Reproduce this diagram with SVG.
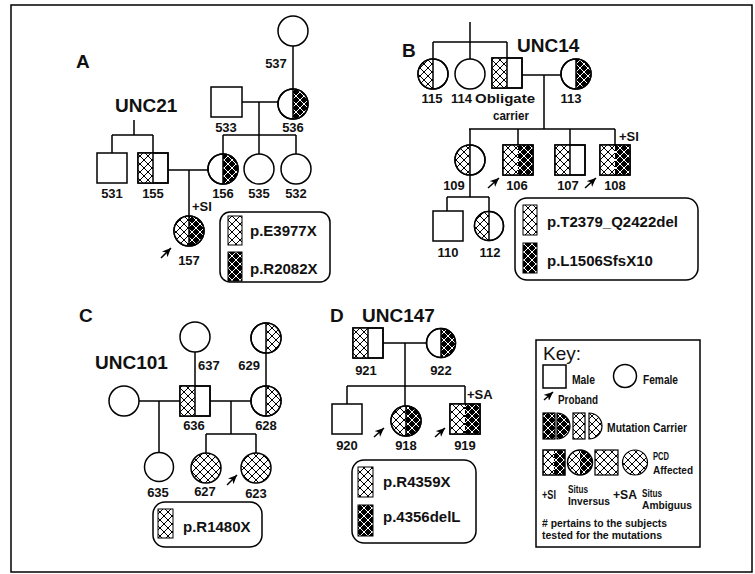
<svg xmlns="http://www.w3.org/2000/svg" width="755" height="574" viewBox="0 0 755 574">
<defs>
<pattern id="lt" patternUnits="userSpaceOnUse" width="8" height="8"><rect width="8" height="8" fill="#fff"/><path d="M-1,-1 L9,9 M9,-1 L-1,9" stroke="#000" stroke-width="1"/></pattern>
<pattern id="dk" patternUnits="userSpaceOnUse" width="8" height="8"><rect width="8" height="8" fill="#000"/><path d="M-1,-1 L9,9 M9,-1 L-1,9" stroke="#fff" stroke-width="1"/></pattern>
<marker id="ah" markerUnits="userSpaceOnUse" markerWidth="9" markerHeight="8" refX="9" refY="4" orient="auto"><path d="M0,0 L9,4 L0,8 L2.5,4 Z" fill="#000"/></marker>
<style>
.ln{stroke:#000;stroke-width:1.5;fill:none}
.sh{stroke:#000;stroke-width:1.5;fill:#fff}
.o{stroke:#000;stroke-width:1.5;fill:none}
.lt{fill:url(#lt)}
.dk{fill:url(#dk)}
.ar{stroke:#000;stroke-width:1.5;fill:none;marker-end:url(#ah)}
text{font-family:"Liberation Sans",Arial,sans-serif;font-weight:bold;fill:#111}
.n{font-size:13px;text-anchor:middle}
.ns{font-size:13px}
.ttl{font-size:19px}
.m{font-size:15px}
.k{font-size:12px}
.bx{stroke:#000;stroke-width:1.5;fill:#fff}
</style>
</defs>
<rect x="11" y="5" width="741" height="567" fill="#fff" stroke="#000" stroke-width="1.5"/>

<g id="connectors">
<!-- A -->
<path class="ln" d="M293,46 V89 M242,102 H278 M259,102 V135 M223,135 H296 M223,135 V154 M259,135 V154 M296,135 V154"/>
<path class="ln" d="M134,120 V135 M112,135 H153 M112,135 V153 M153,135 V153 M168,170 H208 M189,170 V216"/>
<!-- B -->
<path class="ln" d="M470,22 V42 M433,42 H507 M433,42 V59 M470,42 V59 M507,42 V58 M522,75 H561 M544,75 V129 M469,129 H615 M470,129 V145 M518,129 V145 M570,129 V145 M615,129 V145"/>
<path class="ln" d="M470,175 V197 M447,197 H489 M447,197 V211 M489,197 V212"/>
<!-- C -->
<path class="ln" d="M195,352 V386 M266,353 V386 M139,401 H180 M159,401 V452 M210,401 H251 M231,401 V434 M206,434 H256 M206,434 V453 M256,434 V453"/>
<!-- D -->
<path class="ln" d="M383,343 H427 M405,343 V406 M347,386 H465 M347,386 V404 M465,386 V404"/>
</g>

<g id="labels">
<text class="ttl" x="76" y="68">A</text>
<text class="ttl" x="115" y="112">UNC21</text>
<text class="ttl" x="402" y="57">B</text>
<text class="ttl" x="517" y="52">UNC14</text>
<text class="ttl" x="79" y="322">C</text>
<text class="ttl" x="95" y="369">UNC101</text>
<text class="ttl" x="330" y="322">D</text>
<text class="ttl" x="362" y="322">UNC147</text>
</g>

<!-- Panel A -->
<g id="A537"><circle class="sh" cx="293" cy="31" r="15"/><text class="n" x="276" y="68">537</text></g>
<g id="A536"><circle class="sh" cx="293" cy="104" r="15"/><path class="dk" d="M293,89 A15,15 0 0 1 293,119 Z"/><path class="o" d="M293,89 V119"/><circle class="o" cx="293" cy="104" r="15"/><text class="n" x="293" y="132">536</text></g>
<g id="A533"><rect class="sh" x="211" y="87" width="31" height="30"/><text class="n" x="226" y="132">533</text></g>
<g id="A531"><rect class="sh" x="97" y="153" width="30" height="30"/><text class="n" x="112" y="198">531</text></g>
<g id="A155"><rect class="sh" x="138" y="153" width="30" height="30"/><rect class="lt" x="138" y="153" width="15" height="30"/><path class="o" d="M153,153 V183"/><rect class="o" x="138" y="153" width="30" height="30"/><text class="n" x="153" y="198">155</text></g>
<g id="A156"><circle class="sh" cx="223" cy="169" r="15"/><path class="dk" d="M223,154 A15,15 0 0 1 223,184 Z"/><path class="o" d="M223,154 V184"/><circle class="o" cx="223" cy="169" r="15"/><text class="n" x="223" y="198">156</text></g>
<g id="A535"><circle class="sh" cx="259" cy="169" r="15"/><text class="n" x="259" y="198">535</text></g>
<g id="A532"><circle class="sh" cx="296" cy="169" r="15"/><text class="n" x="296" y="198">532</text></g>
<g id="A157"><circle class="sh" cx="189" cy="231" r="15"/><path class="lt" d="M189,216 A15,15 0 0 0 189,246 Z"/><path class="dk" d="M189,216 A15,15 0 0 1 189,246 Z"/><path class="o" d="M189,216 V246"/><circle class="o" cx="189" cy="231" r="15"/><text class="ns" x="192" y="211">+SI</text><path class="ar" d="M161,258 L171,248"/><text class="n" x="189" y="265">157</text></g>
<g id="A-legend"><rect class="bx" x="220" y="212" width="110" height="70" rx="10"/><rect class="lt" x="228" y="216" width="14" height="29" stroke="#000" stroke-width="1"/><text class="m" x="250" y="236">p.E3977X</text><rect class="dk" x="228" y="252" width="14" height="29" stroke="#000" stroke-width="1"/><text class="m" x="250" y="274">p.R2082X</text></g>

<!-- Panel B -->
<g id="B115"><circle class="sh" cx="433" cy="74" r="15"/><path class="lt" d="M433,59 A15,15 0 0 0 433,89 Z"/><path class="o" d="M433,59 V89"/><circle class="o" cx="433" cy="74" r="15"/><text class="n" x="432" y="103">115</text></g>
<g id="B114"><circle class="sh" cx="470" cy="74" r="15"/><text class="ns" x="451" y="103">114</text></g>
<g id="Bcarrier"><rect class="sh" x="492" y="58" width="30" height="30"/><rect class="lt" x="492" y="58" width="15" height="30"/><path class="o" d="M507,58 V88"/><rect class="o" x="492" y="58" width="30" height="30"/><text class="ns" x="475" y="103" textLength="60" lengthAdjust="spacingAndGlyphs">Obligate</text><text class="ns" x="493" y="120" textLength="36" lengthAdjust="spacingAndGlyphs">carrier</text></g>
<g id="B113"><circle class="sh" cx="576" cy="74" r="15"/><path class="dk" d="M576,59 A15,15 0 0 1 576,89 Z"/><path class="o" d="M576,59 V89"/><circle class="o" cx="576" cy="74" r="15"/><text class="n" x="571" y="103">113</text></g>
<g id="B109"><circle class="sh" cx="470" cy="160" r="15"/><path class="lt" d="M470,145 A15,15 0 0 0 470,175 Z"/><path class="o" d="M470,145 V175"/><circle class="o" cx="470" cy="160" r="15"/><text class="n" x="454" y="190">109</text></g>
<g id="B106"><rect class="sh" x="503" y="145" width="30" height="30"/><rect class="lt" x="503" y="145" width="15" height="30"/><rect class="dk" x="518" y="145" width="15" height="30"/><rect class="o" x="503" y="145" width="30" height="30"/><path class="ar" d="M488,188 L499,178"/><text class="n" x="517" y="190">106</text></g>
<g id="B107"><rect class="sh" x="555" y="145" width="30" height="30"/><rect class="lt" x="555" y="145" width="15" height="30"/><path class="o" d="M570,145 V175"/><rect class="o" x="555" y="145" width="30" height="30"/><text class="n" x="568" y="190">107</text></g>
<g id="B108"><rect class="sh" x="600" y="145" width="30" height="30"/><rect class="lt" x="600" y="145" width="15" height="30"/><rect class="dk" x="615" y="145" width="15" height="30"/><rect class="o" x="600" y="145" width="30" height="30"/><text class="ns" x="619" y="141">+SI</text><path class="ar" d="M585,188 L596,178"/><text class="n" x="615" y="190">108</text></g>
<g id="B110"><rect class="sh" x="433" y="211" width="30" height="30"/><text class="n" x="448" y="257">110</text></g>
<g id="B112"><circle class="sh" cx="489" cy="226" r="14.5"/><path class="lt" d="M489,211.5 A14.5,14.5 0 0 0 489,240.5 Z"/><path class="o" d="M489,211.5 V240.5"/><circle class="o" cx="489" cy="226" r="14.5"/><text class="n" x="490" y="257">112</text></g>
<g id="B-legend"><rect class="bx" x="515" y="198" width="183" height="82" rx="12"/><rect class="lt" x="523" y="205" width="14" height="30" stroke="#000" stroke-width="1"/><text class="m" x="547" y="227">p.T2379_Q2422del</text><rect class="dk" x="523" y="243" width="14" height="30" stroke="#000" stroke-width="1"/><text class="m" x="547" y="266">p.L1506SfsX10</text></g>

<!-- Panel C -->
<g id="C637"><circle class="sh" cx="195" cy="337" r="15"/><text class="ns" x="198" y="370">637</text></g>
<g id="C629"><circle class="sh" cx="266" cy="338" r="15"/><path class="lt" d="M266,323 A15,15 0 0 1 266,353 Z"/><path class="o" d="M266,323 V353"/><circle class="o" cx="266" cy="338" r="15"/><text class="ns" x="260" y="370" text-anchor="end">629</text></g>
<g id="C-spouse"><circle class="sh" cx="124" cy="401" r="15"/></g>
<g id="C636"><rect class="sh" x="180" y="386" width="30" height="30"/><rect class="lt" x="180" y="386" width="15" height="30"/><path class="o" d="M195,386 V416"/><rect class="o" x="180" y="386" width="30" height="30"/><text class="n" x="194" y="430">636</text></g>
<g id="C628"><circle class="sh" cx="266" cy="401" r="15"/><path class="lt" d="M266,386 A15,15 0 0 1 266,416 Z"/><path class="o" d="M266,386 V416"/><circle class="o" cx="266" cy="401" r="15"/><text class="n" x="266" y="430">628</text></g>
<g id="C635"><circle class="sh" cx="159" cy="467" r="14.5"/><text class="n" x="158" y="497">635</text></g>
<g id="C627"><circle class="lt" cx="206" cy="468" r="15" stroke="#000" stroke-width="1.5"/><text class="n" x="205" y="496">627</text></g>
<g id="C623"><circle class="lt" cx="256" cy="468" r="15" stroke="#000" stroke-width="1.5"/><path class="ar" d="M227,485 L237,475"/><text class="n" x="256" y="498">623</text></g>
<g id="C-legend"><rect class="bx" x="153" y="502" width="109" height="45" rx="12"/><rect class="lt" x="158" y="509" width="15" height="29" stroke="#000" stroke-width="1"/><text class="m" x="183" y="532">p.R1480X</text></g>

<!-- Panel D -->
<g id="D921"><rect class="sh" x="353" y="328" width="30" height="30"/><rect class="lt" x="353" y="328" width="15" height="30"/><path class="o" d="M368,328 V358"/><rect class="o" x="353" y="328" width="30" height="30"/><text class="n" x="366" y="375">921</text></g>
<g id="D922"><circle class="sh" cx="441" cy="343" r="14.5"/><path class="dk" d="M441,328.5 A14.5,14.5 0 0 1 441,357.5 Z"/><path class="o" d="M441,328.5 V357.5"/><circle class="o" cx="441" cy="343" r="14.5"/><text class="n" x="441" y="375">922</text></g>
<g id="D920"><rect class="sh" x="332" y="404" width="30" height="30"/><text class="n" x="347" y="450">920</text></g>
<g id="D918"><circle class="sh" cx="406" cy="421" r="15"/><path class="lt" d="M406,406 A15,15 0 0 0 406,436 Z"/><path class="dk" d="M406,406 A15,15 0 0 1 406,436 Z"/><path class="o" d="M406,406 V436"/><circle class="o" cx="406" cy="421" r="15"/><path class="ar" d="M374,437 L384,428"/><text class="n" x="406" y="450">918</text></g>
<g id="D919"><rect class="sh" x="450" y="404" width="30" height="30"/><rect class="lt" x="450" y="404" width="15" height="30"/><rect class="dk" x="465" y="404" width="15" height="30"/><rect class="o" x="450" y="404" width="30" height="30"/><text class="ns" x="467" y="399">+SA</text><path class="ar" d="M435,437 L445,428"/><text class="n" x="465" y="450">919</text></g>
<g id="D-legend"><rect class="bx" x="352" y="460" width="124" height="83" rx="12"/><rect class="lt" x="358" y="467" width="15" height="30" stroke="#000" stroke-width="1"/><text class="m" x="383" y="487">p.R4359X</text><rect class="dk" x="358" y="505" width="15" height="31" stroke="#000" stroke-width="1"/><text class="m" x="383" y="522">p.4356delL</text></g>

<!-- Key -->
<g id="key">
<rect x="536" y="340" width="164" height="207" fill="#fff" stroke="#000" stroke-width="1.5"/>
<text x="543" y="360" style="font-size:19px;font-weight:normal">Key:</text>
<rect class="sh" x="543" y="365" width="23" height="23"/>
<text class="k" x="572" y="384" textLength="23" lengthAdjust="spacingAndGlyphs">Male</text>
<circle class="sh" cx="625" cy="376" r="11.5"/>
<text class="k" x="643" y="384" textLength="35" lengthAdjust="spacingAndGlyphs">Female</text>
<path class="ar" d="M544,400 L553,392"/>
<text class="k" x="558" y="404" textLength="40" lengthAdjust="spacingAndGlyphs">Proband</text>
<rect class="dk" x="543" y="413" width="12" height="26" stroke="#000" stroke-width="1.2"/>
<path class="dk" d="M557,413 A13,13 0 0 1 557,439 Z" stroke="#000" stroke-width="1.2"/>
<rect class="lt" x="573" y="413" width="12" height="26" stroke="#000" stroke-width="1.2"/>
<path class="lt" d="M589,413 A13,13 0 0 1 589,439 Z" stroke="#000" stroke-width="1.2"/>
<text class="k" x="607" y="432" textLength="80" lengthAdjust="spacingAndGlyphs">Mutation Carrier</text>
<rect class="lt" x="543" y="450" width="11" height="25"/><rect class="dk" x="554" y="450" width="11" height="25"/><rect class="o" x="543" y="450" width="22" height="25" stroke-width="1.2"/>
<path class="lt" d="M580,450 A12.5,12.5 0 0 0 580,475 Z"/><path class="dk" d="M580,450 A12.5,12.5 0 0 1 580,475 Z"/><circle class="o" cx="580" cy="462.5" r="12.5" stroke-width="1.2"/>
<rect class="lt" x="595" y="450" width="23" height="25" stroke="#000" stroke-width="1.2"/>
<circle class="lt" cx="635" cy="462.5" r="12.5" stroke="#000" stroke-width="1.2"/>
<text class="k" x="653" y="460" style="font-size:11px" textLength="16" lengthAdjust="spacingAndGlyphs">PCD</text>
<text class="k" x="653" y="474" style="font-size:11px" textLength="40" lengthAdjust="spacingAndGlyphs">Affected</text>
<text class="k" x="542" y="499" textLength="14" lengthAdjust="spacingAndGlyphs">+SI</text>
<text class="k" x="568" y="493" style="font-size:11px" textLength="20" lengthAdjust="spacingAndGlyphs">Situs</text>
<text class="k" x="568" y="505" style="font-size:11px" textLength="42" lengthAdjust="spacingAndGlyphs">Inversus</text>
<text class="k" x="613" y="499" textLength="24" lengthAdjust="spacingAndGlyphs">+SA</text>
<text class="k" x="642" y="497" style="font-size:11px" textLength="20" lengthAdjust="spacingAndGlyphs">Situs</text>
<text class="k" x="642" y="509" style="font-size:11px" textLength="50" lengthAdjust="spacingAndGlyphs">Ambiguus</text>
<text class="k" x="542" y="527" style="font-size:11px" textLength="125" lengthAdjust="spacingAndGlyphs"># pertains to the subjects</text>
<text class="k" x="542" y="539" style="font-size:11px" textLength="120" lengthAdjust="spacingAndGlyphs">tested for the mutations</text>
</g>
</svg>
